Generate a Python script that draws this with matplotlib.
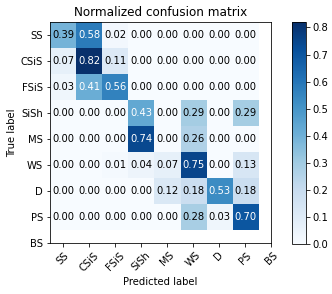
import numpy as np
import matplotlib
matplotlib.use("Agg")
import matplotlib.pyplot as plt

classes = ["SS", "CSiS", "FSiS", "SiSh", "MS", "WS", "D", "PS", "BS"]

cm = np.array([
    [0.39, 0.58, 0.02, 0.00, 0.00, 0.00, 0.00, 0.00],
    [0.07, 0.82, 0.11, 0.00, 0.00, 0.00, 0.00, 0.00],
    [0.03, 0.41, 0.56, 0.00, 0.00, 0.00, 0.00, 0.00],
    [0.00, 0.00, 0.00, 0.43, 0.00, 0.29, 0.00, 0.29],
    [0.00, 0.00, 0.00, 0.74, 0.00, 0.26, 0.00, 0.00],
    [0.00, 0.00, 0.01, 0.04, 0.07, 0.75, 0.00, 0.13],
    [0.00, 0.00, 0.00, 0.00, 0.12, 0.18, 0.53, 0.18],
    [0.00, 0.00, 0.00, 0.00, 0.00, 0.28, 0.03, 0.70],
])

fig = plt.figure(figsize=(332 / 72, 294 / 72), dpi=72)
ax = fig.add_axes([0.1506, 0.1724, 0.6657, 0.7517])
cax = fig.add_axes([0.8795, 0.170, 0.041, 0.755])

im = ax.imshow(cm, interpolation="nearest", cmap=plt.cm.Blues, aspect="auto")
ax.set_title("Normalized confusion matrix", fontsize=12)
fig.colorbar(im, cax=cax)

tick_marks = np.arange(len(classes))
ax.set_xticks(tick_marks)
ax.set_xticklabels(classes, rotation=45)
ax.set_yticks(tick_marks)
ax.set_yticklabels(classes)
ax.set_xlim(-0.5, len(classes) - 1)
ax.set_ylim(len(classes) - 1, -0.5)

thresh = cm.max() / 2.
for i in range(cm.shape[0]):
    for j in range(cm.shape[1]):
        ax.text(j, i, format(cm[i, j], ".2f"),
                ha="center", va="center", fontsize=10,
                color="white" if cm[i, j] >= thresh else "black")

ax.set_ylabel("True label")
ax.set_xlabel("Predicted label")

fig.savefig("out.png", dpi=72)
